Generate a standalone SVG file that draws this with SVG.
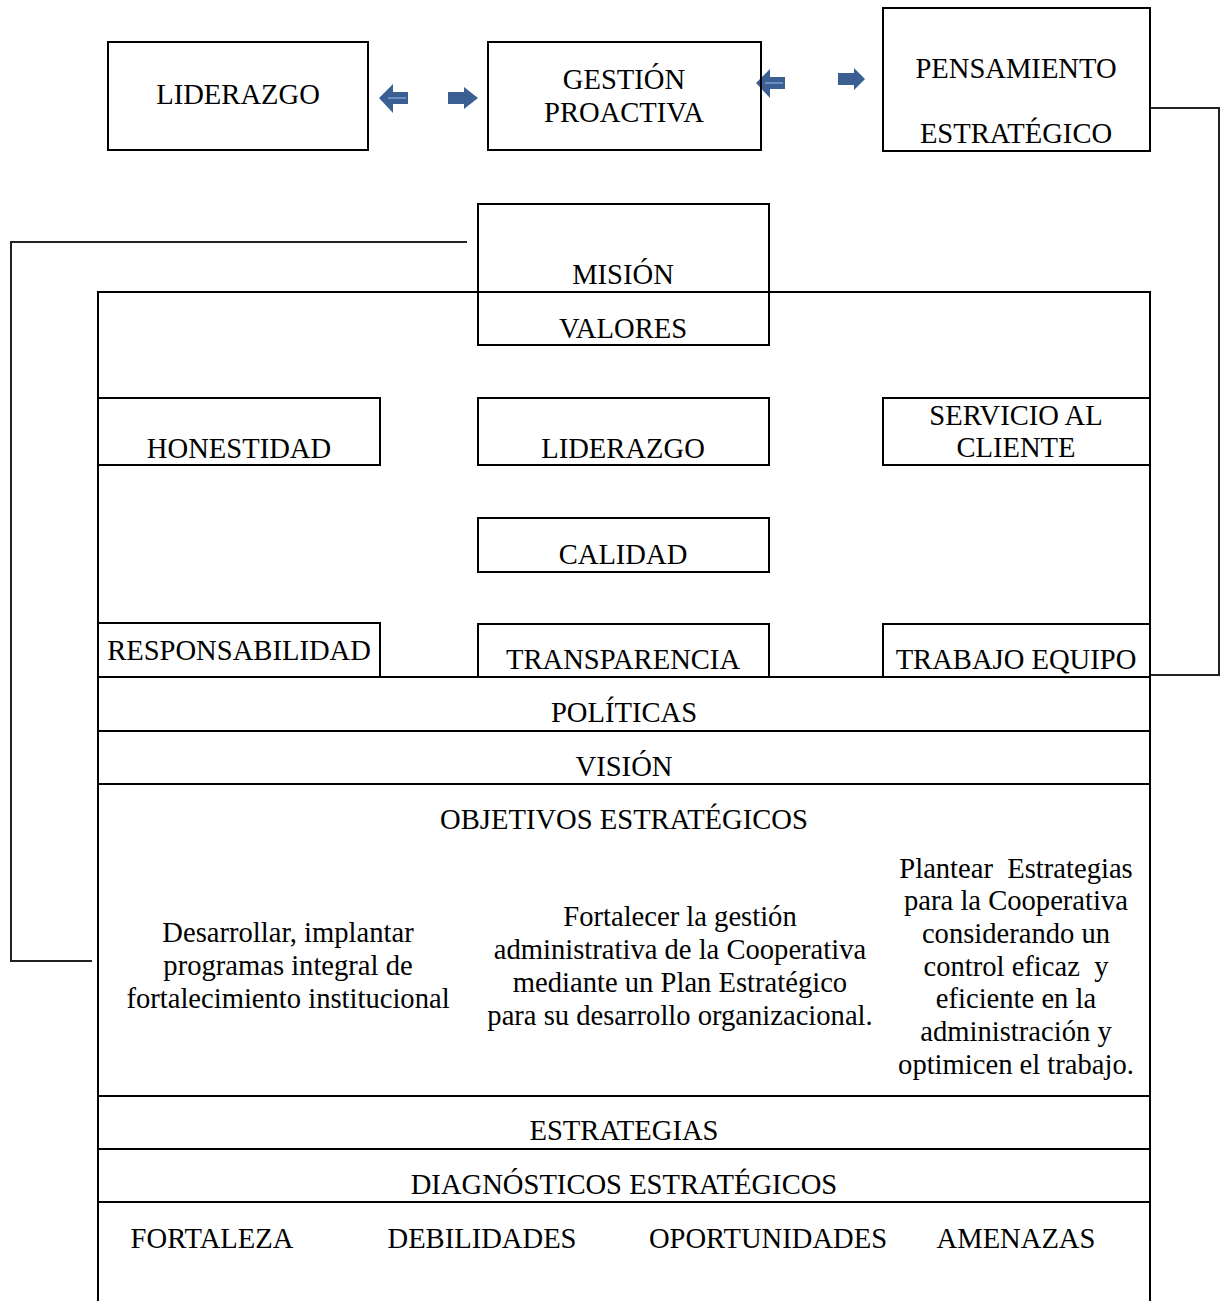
<svg xmlns="http://www.w3.org/2000/svg" width="1220" height="1301" viewBox="0 0 1220 1301">
<style>
.b{fill:none;stroke:#000;stroke-width:2}
.c{fill:none;stroke:#222;stroke-width:2}
text{font-family:"Liberation Serif","Times New Roman",serif;font-size:28.6px;fill:#000;text-anchor:middle}
.ar{fill:#3b5f93}
.st{fill:none;stroke:#6c8fc2;stroke-width:2}
</style>
<rect width="1220" height="1301" fill="#fff"/>
<g id="connectors">
<polyline class="c" points="1150,108 1219,108 1219,675 1150,675"/>
<polyline class="c" points="467,242 11,242 11,961 92,961"/>
<g id="arrow1"><polygon class="ar" points="379,98 393,84 393,92 408,92 408,104 393,104 393,113"/><line class="st" x1="388" y1="98" x2="406" y2="98"/></g>
<g id="arrow2"><polygon class="ar" points="448,92 464,92 464,87 478,98 464,109 464,104 448,104"/></g>
<g id="arrow3"><polygon class="ar" points="756,83 770,69 770,77 785,77 785,89 770,89 770,98"/><line class="st" x1="765" y1="83" x2="783" y2="83"/></g>
<g id="arrow4"><polygon class="ar" points="838,73 854,73 854,68 865,79 854,90 854,85 838,85"/></g>
</g>
<g id="liderazgo-top"><rect class="b" x="108" y="42" width="260" height="108"/><text x="238" y="104">LIDERAZGO</text></g>
<g id="gestion"><rect class="b" x="488" y="42" width="273" height="108"/><text x="624" y="89">GESTIÓN</text><text x="624" y="122">PROACTIVA</text></g>
<g id="pensamiento"><rect class="b" x="883" y="8" width="267" height="143"/><text x="1016" y="78">PENSAMIENTO</text><text x="1016" y="143">ESTRATÉGICO</text></g>
<g id="main"><rect class="b" x="98" y="292" width="1052" height="1015"/>
<line class="b" x1="98" y1="677" x2="1150" y2="677"/>
<line class="b" x1="98" y1="731" x2="1150" y2="731"/>
<line class="b" x1="98" y1="784" x2="1150" y2="784"/>
<line class="b" x1="98" y1="1096" x2="1150" y2="1096"/>
<line class="b" x1="98" y1="1149" x2="1150" y2="1149"/>
<line class="b" x1="98" y1="1202" x2="1150" y2="1202"/>
</g>
<g id="mision"><rect class="b" x="478" y="204" width="291" height="141"/><text x="623" y="284">MISIÓN</text></g>
<g id="valores"><text x="623" y="338">VALORES</text></g>
<g id="honestidad"><rect class="b" x="98" y="398" width="282" height="67"/><text x="239" y="458">HONESTIDAD</text></g>
<g id="liderazgo"><rect class="b" x="478" y="398" width="291" height="67"/><text x="623" y="458">LIDERAZGO</text></g>
<g id="servicio"><rect class="b" x="883" y="398" width="267" height="67"/><text x="1016" y="425">SERVICIO AL</text><text x="1016" y="457">CLIENTE</text></g>
<g id="calidad"><rect class="b" x="478" y="518" width="291" height="54"/><text x="623" y="564">CALIDAD</text></g>
<g id="responsabilidad"><rect class="b" x="98" y="623" width="282" height="54"/><text x="239" y="660">RESPONSABILIDAD</text></g>
<g id="transparencia"><rect class="b" x="478" y="624" width="291" height="53"/><text x="623" y="669">TRANSPARENCIA</text></g>
<g id="trabajo"><rect class="b" x="883" y="624" width="267" height="53"/><text x="1016" y="669">TRABAJO EQUIPO</text></g>
<g id="politicas"><text x="624" y="722">POLÍTICAS</text></g>
<g id="vision"><text x="624" y="776">VISIÓN</text></g>
<g id="objetivos"><text x="624" y="829">OBJETIVOS ESTRATÉGICOS</text>
<text x="288" y="942">Desarrollar, implantar</text>
<text x="288" y="975">programas integral de</text>
<text x="288" y="1008">fortalecimiento institucional</text>
<text x="680" y="926">Fortalecer la gestión</text>
<text x="680" y="959">administrativa de la Cooperativa</text>
<text x="680" y="992">mediante un Plan Estratégico</text>
<text x="680" y="1025">para su desarrollo organizacional.</text>
<text x="1016" y="878" xml:space="preserve">Plantear  Estrategias</text>
<text x="1016" y="910">para la Cooperativa</text>
<text x="1016" y="943">considerando un</text>
<text x="1016" y="976" xml:space="preserve">control eficaz  y</text>
<text x="1016" y="1008">eficiente en la</text>
<text x="1016" y="1041">administración y</text>
<text x="1016" y="1074">optimicen el trabajo.</text>
</g>
<g id="estrategias"><text x="624" y="1140">ESTRATEGIAS</text></g>
<g id="diagnosticos"><text x="624" y="1194">DIAGNÓSTICOS ESTRATÉGICOS</text>
<text x="212" y="1248">FORTALEZA</text>
<text x="482" y="1248">DEBILIDADES</text>
<text x="768" y="1248">OPORTUNIDADES</text>
<text x="1016" y="1248">AMENAZAS</text>
</g>
</svg>
